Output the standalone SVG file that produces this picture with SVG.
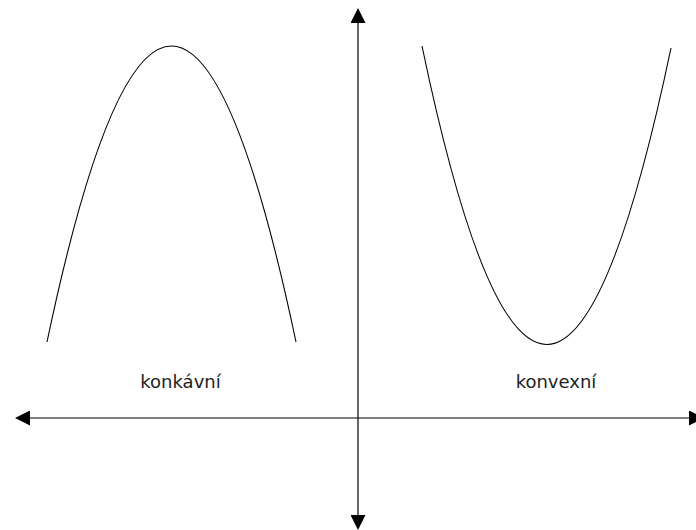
<svg xmlns="http://www.w3.org/2000/svg" width="696" height="530" viewBox="0 0 696 530">
<style>
.curve{fill:none;stroke:#000;stroke-width:1.1}
.axis{fill:none;stroke:#000;stroke-width:1.2}
.lbl{font-family:"DejaVu Sans",sans-serif;font-size:18px;fill:#222;text-anchor:middle}
</style>
<defs>
<marker id="ah" viewBox="0 0 15 15" refX="0" refY="7.5" markerWidth="15" markerHeight="15" markerUnits="userSpaceOnUse" orient="auto-start-reverse">
<path d="M0,0 L0,15 L15,7.5 Z" fill="#000"/>
</marker>
</defs>
<rect width="696" height="530" fill="#fff"/>
<g id="connectors">
<path class="axis" d="M30,418 L689,418" marker-start="url(#ah)" marker-end="url(#ah)"/>
<path class="axis" d="M358,23 L358,515" marker-start="url(#ah)" marker-end="url(#ah)"/>
</g>
<g id="concave">
<path class="curve" d="M47,342 Q171.5,-250 296,342"/>
<text class="lbl" x="180.5" y="388">konkávní</text>
</g>
<g id="convex">
<path class="curve" d="M422,46 Q546.5,642 671,48"/>
<text class="lbl" x="556" y="388">konvexní</text>
</g>
</svg>
